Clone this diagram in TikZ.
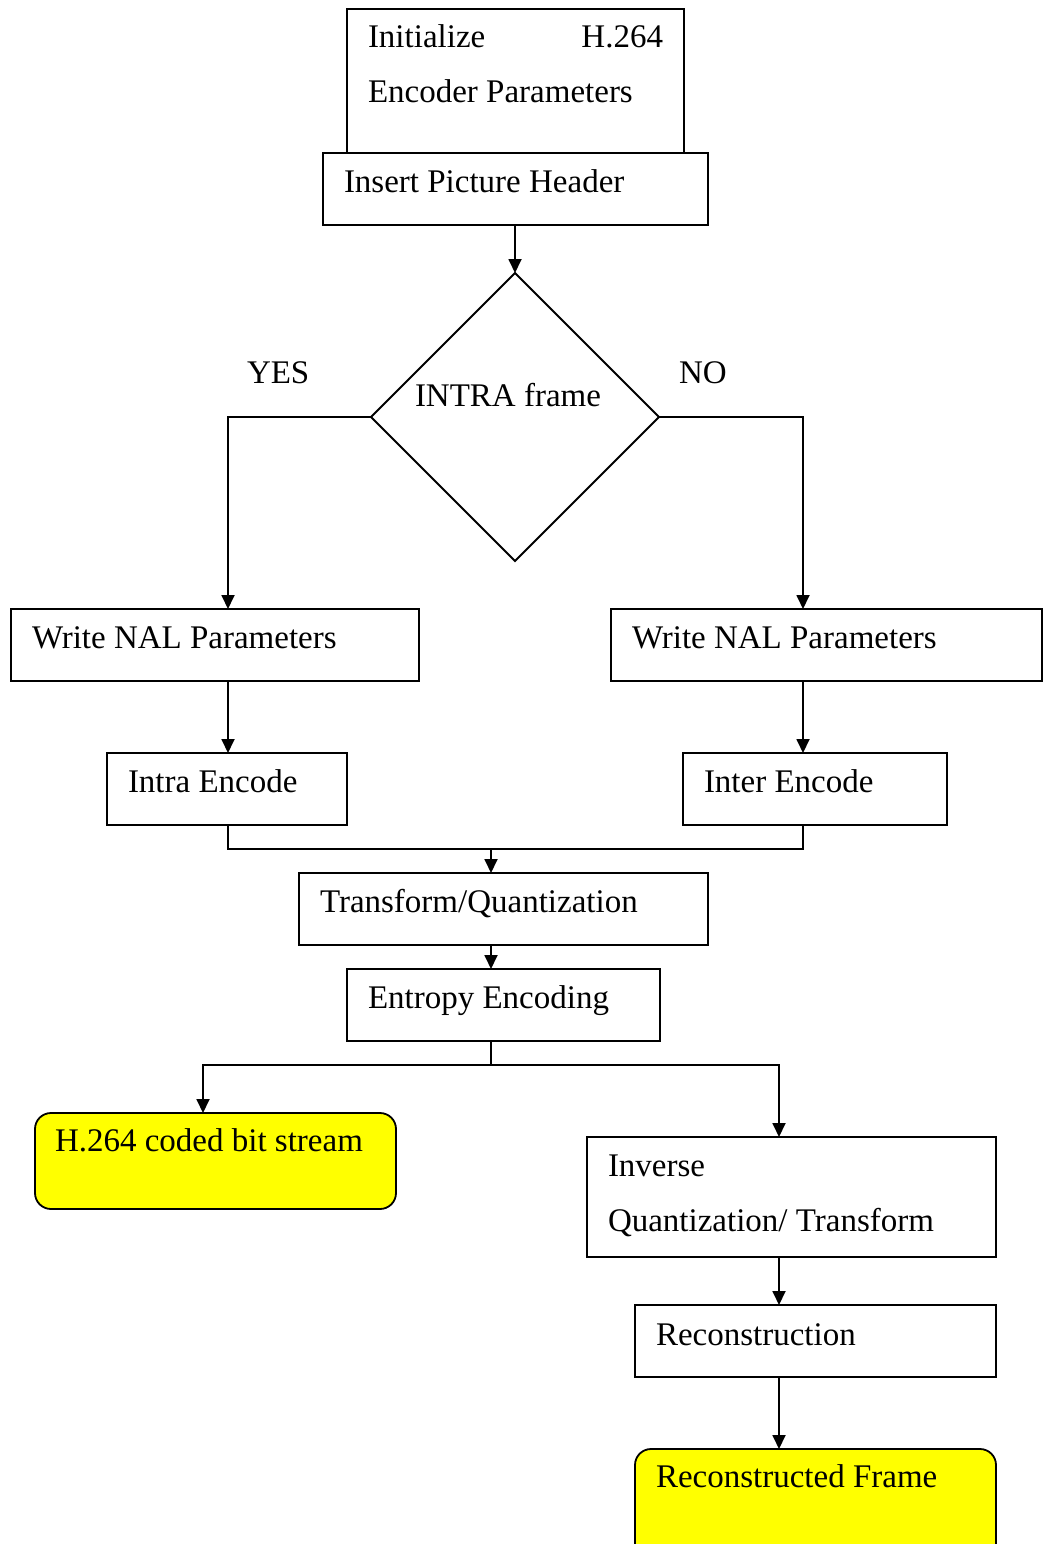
\documentclass[tikz,border=0pt]{standalone}
\usepackage{fontspec}
\setmainfont{Liberation Serif}
\usetikzlibrary{arrows.meta,shapes.geometric}
\definecolor{termfill}{RGB}{255,255,0}
\begin{document}
\begin{tikzpicture}[x=1pt,y=-1pt,
  every node/.style={inner sep=0pt, outer sep=0pt},
  box/.style={draw, line width=1.8pt, rectangle},
  term/.style={box, fill=termfill, rounded corners=16pt},
  decision/.style={draw, line width=1.8pt, diamond, aspect=1},
  txt/.style={anchor=base west, font=\fontsize{33}{39}\selectfont},
  txtr/.style={txt, anchor=base east},
  link/.style={line width=1.8pt},
  flow/.style={link, -{Triangle[length=14pt,width=13pt]}}]
\useasboundingbox (0,0) rectangle (1043,1544);

% box helper: style, name, left, top, right, bottom
\newcommand\drawbox[6]{%
  \node[#1, minimum width={#5pt-#3pt}, minimum height={#6pt-#4pt}]
    (#2) at ({(#3+#5)/2},{(#4+#6)/2}) {};}

\drawbox{box}{init}{347}{9}{684}{153}
\drawbox{box}{hdr}{323}{153}{708}{225}
\node[decision, minimum width=288pt, minimum height=288pt] (dec) at (515,417) {};
\drawbox{box}{nalL}{11}{609}{419}{681}
\drawbox{box}{nalR}{611}{609}{1042}{681}
\drawbox{box}{intra}{107}{753}{347}{825}
\drawbox{box}{inter}{683}{753}{947}{825}
\drawbox{box}{tq}{299}{873}{708}{945}
\drawbox{box}{ent}{347}{969}{660}{1041}
\drawbox{term}{bits}{35}{1113}{396}{1209}
\drawbox{box}{inv}{587}{1137}{996}{1257}
\drawbox{box}{rec}{635}{1305}{996}{1377}
\drawbox{term}{frame}{635}{1449}{996}{1560}

% labels
\node[txt] (tInit) at (368,48) {Initialize};
\node[txtr] (tH) at (663,48) {H.264};
\node[txt] (tEnc) at (368,103) {Encoder Parameters};
\node[txt] (tHdr) at (344,192) {Insert Picture Header};
\node[txt] (tDec) at (415,406) {INTRA frame};
\node[txt] (tYes) at (247,383) {YES};
\node[txt] (tNo) at (679,383) {NO};
\node[txt] (tNalL) at (32,648) {Write NAL Parameters};
\node[txt] (tNalR) at (632,648) {Write NAL Parameters};
\node[txt] (tIntra) at (128,792) {Intra Encode};
\node[txt] (tInter) at (704,792) {Inter Encode};
\node[txt] (tTq) at (320,912) {Transform/Quantization};
\node[txt] (tEnt) at (368,1008) {Entropy Encoding};
\node[txt] (tBits) at (55,1151) {H.264 coded bit stream};
\node[txt] (tInv1) at (608,1176) {Inverse};
\node[txt] (tInv2) at (608,1231) {Quantization/ Transform};
\node[txt] (tRec) at (656,1345) {Reconstruction};
\node[txt] (tFrame) at (656,1487) {Reconstructed Frame};

% lanes for the connectors
\coordinate (laneL) at (228,0);
\coordinate (laneR) at (803,0);
\coordinate (merge) at (491,849);
\coordinate (split) at (491,1065);
\coordinate (laneB) at (203,0);
\coordinate (laneC) at (779,0);

% connectors
\draw[flow] (hdr.south -| dec.north) -- (dec.north);
\draw[flow] (dec.west) -| (laneL |- nalL.north);
\draw[flow] (dec.east) -| (laneR |- nalR.north);
\draw[flow] (laneL |- nalL.south) -- (laneL |- intra.north);
\draw[flow] (laneR |- nalR.south) -- (laneR |- inter.north);
\draw[link] (laneL |- intra.south) -- (laneL |- merge) -- (laneR |- merge) -- (laneR |- inter.south);
\draw[flow] (merge) -- (merge |- tq.north);
\draw[flow] (merge |- tq.south) -- (merge |- ent.north);
\draw[link] (merge |- ent.south) -- (split);
\draw[flow] (split) -| (laneB |- bits.north);
\draw[flow] (split) -| (laneC |- inv.north);
\draw[flow] (laneC |- inv.south) -- (laneC |- rec.north);
\draw[flow] (laneC |- rec.south) -- (laneC |- frame.north);
\end{tikzpicture}
\end{document}
